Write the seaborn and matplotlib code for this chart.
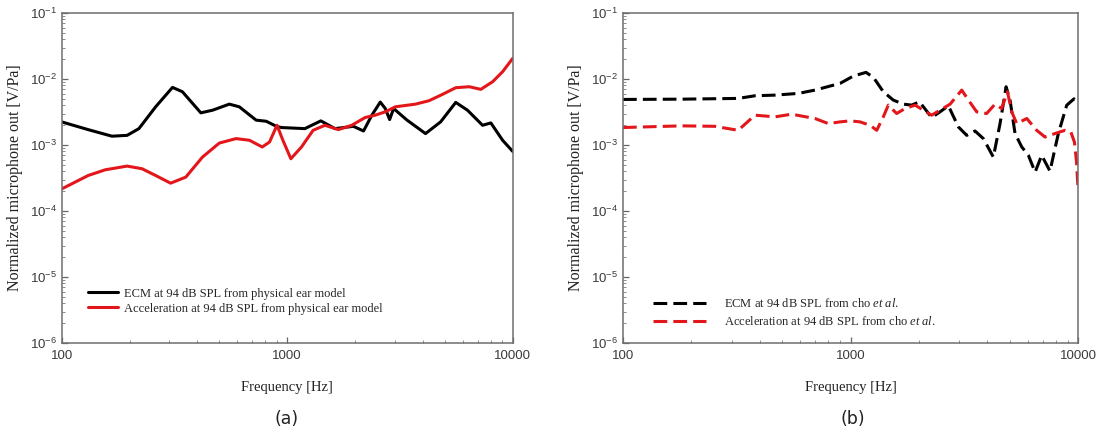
import matplotlib
matplotlib.use("Agg")
import matplotlib.pyplot as plt
import matplotlib.ticker as mticker
import pandas as pd
import seaborn as sns

# (a) physical ear model
freq_ecm_a = [100, 131, 167, 195, 220, 261, 310, 343, 414, 467, 554, 613, 728, 807, 895,
              942, 1197, 1410, 1629, 1966, 2180, 2374, 2586, 2723, 2846, 2965, 3400, 4106,
              4790, 5590, 6300, 7350, 8000, 9020, 10000]
ecm_a = [2.24e-3, 1.71e-3, 1.36e-3, 1.40e-3, 1.77e-3, 3.79e-3, 7.46e-3, 6.41e-3, 3.07e-3,
         3.37e-3, 4.16e-3, 3.79e-3, 2.38e-3, 2.29e-3, 1.92e-3, 1.84e-3, 1.77e-3, 2.32e-3,
         1.77e-3, 1.92e-3, 1.63e-3, 2.83e-3, 4.47e-3, 3.57e-3, 2.43e-3, 3.57e-3, 2.38e-3,
         1.49e-3, 2.24e-3, 4.42e-3, 3.37e-3, 1.99e-3, 2.16e-3, 1.18e-3, 8.0e-4]

freq_acc_a = [100, 131, 156, 195, 227, 261, 304, 355, 421, 500, 593, 680, 775, 835, 901,
              957, 1038, 1157, 1303, 1470, 1686, 1933, 2217, 2457, 2722, 3017, 3705, 4250,
              4872, 5590, 6410, 7220, 8150, 9020, 10000]
acc_a = [2.16e-4, 3.45e-4, 4.21e-4, 4.79e-4, 4.37e-4, 3.45e-4, 2.64e-4, 3.26e-4, 6.56e-4,
         1.07e-3, 1.25e-3, 1.18e-3, 9.33e-4, 1.11e-3, 1.99e-3, 1.18e-3, 6.19e-4, 9.33e-4,
         1.67e-3, 1.99e-3, 1.71e-3, 1.99e-3, 2.61e-3, 2.83e-3, 3.18e-3, 3.79e-3, 4.16e-3,
         4.68e-3, 5.83e-3, 7.38e-3, 7.64e-3, 6.97e-3, 9.10e-3, 1.29e-2, 2.05e-2]

# (b) cho et al.
freq_ecm_b = [100, 181, 321, 380, 466, 590, 698, 900, 1030, 1170, 1261, 1394, 1542, 1707,
              1858, 2010, 2274, 2475, 2693, 2980, 3243, 3527, 3837, 4245, 4543, 4830, 5027,
              5288, 5661, 6054, 6478, 6925, 7530, 8195, 8920, 9600, 10000]
ecm_b = [4.90e-3, 4.95e-3, 5.08e-3, 5.57e-3, 5.70e-3, 6.05e-3, 6.79e-3, 8.59e-3, 1.11e-2,
         1.26e-2, 1.06e-2, 6.41e-3, 4.79e-3, 4.16e-3, 4.02e-3, 4.52e-3, 2.61e-3, 3.18e-3,
         3.93e-3, 1.88e-3, 1.40e-3, 1.63e-3, 1.25e-3, 6.56e-4, 2.11e-3, 7.64e-3, 4.79e-3,
         1.49e-3, 9.33e-4, 6.97e-4, 3.88e-4, 6.97e-4, 4.02e-4, 1.49e-3, 4.0e-3, 5.0e-3, 4.6e-3]

freq_acc_b = [100, 181, 253, 321, 380, 466, 551, 698, 799, 900, 995, 1102, 1219, 1304, 1394,
              1466, 1595, 1737, 1923, 2091, 2274, 2475, 2740, 3083, 3298, 3587, 3968, 4318,
              4619, 4897, 5115, 5379, 5955, 6583, 7160, 8050, 8770, 9300, 9650, 9850, 10000]
acc_b = [1.84e-3, 1.95e-3, 1.92e-3, 1.67e-3, 2.83e-3, 2.67e-3, 2.93e-3, 2.52e-3, 2.11e-3,
         2.24e-3, 2.32e-3, 2.24e-3, 1.99e-3, 1.67e-3, 2.67e-3, 4.02e-3, 3.00e-3, 3.57e-3,
         4.02e-3, 3.37e-3, 2.83e-3, 3.37e-3, 4.16e-3, 6.79e-3, 4.79e-3, 3.18e-3, 3.00e-3,
         4.16e-3, 3.57e-3, 6.41e-3, 3.18e-3, 2.11e-3, 2.52e-3, 1.67e-3, 1.32e-3, 1.52e-3,
         1.67e-3, 1.58e-3, 1.1e-3, 5.6e-4, 2.2e-4]

labels_a = ["ECM at 94 dB SPL from physical ear model",
            "Acceleration at 94 dB SPL from physical ear model"]
labels_b = [r"ECM at 94 dB SPL from cho $\mathit{et\ al.}$",
            r"Acceleration at 94 dB SPL from cho $\mathit{et\ al.}$"]

x_ticks = [100, 1000, 10000]
x_tick_labels = ["100", "1000", "10000"]
y_ticks = [1e-6, 1e-5, 1e-4, 1e-3, 1e-2, 1e-1]
y_tick_labels = [r"$\mathdefault{10^{-6}}$", r"$\mathdefault{10^{-5}}$", r"$\mathdefault{10^{-4}}$",
                 r"$\mathdefault{10^{-3}}$", r"$\mathdefault{10^{-2}}$", r"$\mathdefault{10^{-1}}$"]

RED = "#e3161b"

sns.set_style("white")
plt.rcParams["font.family"] = ["Liberation Serif", "DejaVu Serif"]
plt.rcParams["mathtext.fontset"] = "custom"
plt.rcParams["mathtext.rm"] = "Liberation Serif"
plt.rcParams["mathtext.it"] = "Liberation Serif:italic"
plt.rcParams["xtick.direction"] = "in"
plt.rcParams["ytick.direction"] = "in"

fig = plt.figure(figsize=(11.06, 4.29), dpi=100)
ax_a = fig.add_axes([61.7 / 1106, 86 / 429, 451 / 1106, 330 / 429])
ax_b = fig.add_axes([623 / 1106, 86 / 429, 455 / 1106, 330 / 429])


def draw(ax, f1, v1, f2, v2, labels, style, handlelen, textpad, legend_y, spacing, legend_x):
    d1 = pd.DataFrame({"f": f1, "v": v1})
    d2 = pd.DataFrame({"f": f2, "v": v2})
    sns.lineplot(data=d1, x="f", y="v", ax=ax, color="black", lw=2.2,
                 linestyle=style, label=labels[0])
    sns.lineplot(data=d2, x="f", y="v", ax=ax, color=RED, lw=2.2,
                 linestyle=style, label=labels[1])
    ax.set_xscale("log")
    ax.set_yscale("log")
    ax.set_xlim(100, 10000)
    ax.set_ylim(1e-6, 1e-1)

    ax.set_xticks(x_ticks)
    ax.set_xticklabels(x_tick_labels, fontfamily="Liberation Sans", fontsize=9.5, color="#3a3a3a")
    ax.set_yticks(y_ticks)
    ax.set_yticklabels(y_tick_labels, fontfamily="Liberation Sans", fontsize=9.5, color="#3a3a3a")
    ax.xaxis.set_minor_locator(mticker.LogLocator(base=10, subs=range(2, 10)))
    ax.yaxis.set_minor_locator(mticker.LogLocator(base=10, subs=range(2, 10), numticks=20))
    ax.xaxis.set_minor_formatter(mticker.NullFormatter())
    ax.yaxis.set_minor_formatter(mticker.NullFormatter())
    ax.tick_params(which="both", bottom=True, left=True, top=False, right=False)
    ax.tick_params(which="major", length=4, width=0.9, color="#666666", pad=5)
    ax.tick_params(which="minor", length=2.2, width=0.7, color="#8a8a8a")
    ax.tick_params(axis="y", which="major", pad=3.5)

    for s in ax.spines.values():
        s.set_color("#6e6e6e")
        s.set_linewidth(1.1)

    ax.set_xlabel("Frequency [Hz]", fontsize=10.5, color="#222222")
    ax.set_ylabel("Normalized microphone out [V/Pa]", fontsize=11.5, color="#222222")
    ax.xaxis.label.set_va("center")
    ax.yaxis.label.set_va("center")
    ax.xaxis.set_label_coords(0.5, -0.136)
    ax.yaxis.set_label_coords(-0.104, 0.5)

    ax.legend(loc="center left", bbox_to_anchor=(legend_x, legend_y), frameon=False,
              fontsize=9, handlelength=handlelen, handletextpad=textpad,
              borderpad=0, borderaxespad=0, labelspacing=spacing)


draw(ax_a, freq_ecm_a, ecm_a, freq_acc_a, acc_a, labels_a, "-", 2.4, 0.5, 0.127, 0.25, 0.058)
draw(ax_b, freq_ecm_b, ecm_b, freq_acc_b, acc_b, labels_b, (0, (4.5, 2)), 4.2, 1.5, 0.091, 0.4, 0.066)

fig.text(287 / 1106, 1 - 419 / 429, "(a)", ha="center", va="center", fontsize=12.5,
         fontfamily="DejaVu Sans", color="#222222")
fig.text(853 / 1106, 1 - 419 / 429, "(b)", ha="center", va="center", fontsize=12.5,
         fontfamily="DejaVu Sans", color="#222222")

fig.savefig("out.png", dpi=100)
